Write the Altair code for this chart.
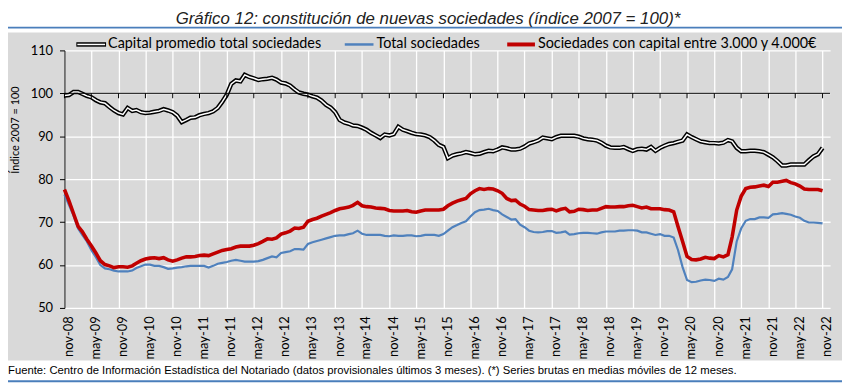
import altair as alt
import pandas as pd

# ---------------- data ----------------
months = pd.date_range("2008-11-01", periods=169, freq="MS")

capital_promedio = [
    99.5, 99.6, 100.3, 100.3, 99.9, 99.4, 99.1, 98.4, 97.9, 97.7, 96.8, 96.0,
    95.4, 95.1, 96.6, 95.9, 96.1, 95.6, 95.4, 95.5, 95.7, 95.9, 96.3, 96.0,
    95.6, 94.8, 93.3, 93.8, 94.3, 94.4, 94.9, 95.2, 95.4, 95.8, 96.6, 98.0,
    99.7, 102.2, 103.0, 102.8, 104.3, 103.8, 103.5, 103.1, 103.3, 103.4, 103.6, 103.2,
    102.5, 102.3, 101.8, 100.9, 100.2, 99.9, 99.7, 99.3, 99.0, 98.3, 97.3, 96.7,
    95.6, 93.8, 93.2, 92.9, 92.5, 92.4, 92.0, 91.5, 90.8, 90.2, 89.6, 90.4,
    90.2, 90.5, 92.2, 91.5, 91.2, 90.8, 90.5, 90.4, 90.2, 89.8, 89.0, 88.0,
    87.5, 84.9, 85.5, 85.8, 86.0, 86.3, 86.1, 85.8, 85.9, 86.3, 86.6, 86.5,
    86.9, 87.4, 87.2, 86.9, 86.9, 87.1, 87.6, 88.3, 88.6, 89.0, 89.7, 89.5,
    89.3, 89.8, 90.1, 90.1, 90.1, 90.1, 89.9, 89.5, 89.3, 89.2, 89.0, 88.5,
    87.8, 87.4, 87.3, 87.3, 87.5, 87.0, 86.6, 87.0, 87.1, 86.9, 87.5, 86.6,
    87.3, 87.8, 88.2, 88.4, 88.7, 89.0, 90.4, 89.8, 89.3, 88.8, 88.6, 88.4,
    88.4, 88.3, 88.5, 89.1, 88.8, 87.3, 86.5, 86.5, 86.6, 86.6, 86.5, 86.3,
    85.7, 85.1, 84.2, 83.2, 83.2, 83.4, 83.4, 83.4, 83.4, 84.4, 85.3, 85.8, 87.3,
]

total_sociedades = [
    76.4, 74.0, 71.5, 68.5, 67.0, 65.5, 63.5, 61.8, 60.0, 59.2, 59.0, 58.7,
    58.5, 58.5, 58.5, 58.7, 59.3, 59.7, 60.1, 60.1, 59.8, 59.8, 59.5, 59.1,
    59.2, 59.4, 59.5, 59.7, 59.8, 59.8, 59.8, 59.8, 59.4, 59.8, 60.3, 60.5,
    60.7, 61.0, 61.2, 61.0, 60.8, 60.8, 60.8, 60.9, 61.2, 61.6, 62.0, 61.8,
    62.8, 63.0, 63.2, 63.7, 63.7, 63.6, 64.9, 65.3, 65.6, 65.9, 66.2, 66.5,
    66.8, 66.9, 66.9, 67.2, 67.4, 68.0, 67.3, 67.0, 67.0, 67.0, 67.0, 66.8,
    66.7, 66.9, 66.8, 66.8, 66.9, 66.9, 66.7, 66.8, 67.0, 67.0, 67.0, 66.8,
    67.2, 68.0, 68.8, 69.3, 69.8, 70.2, 71.3, 72.3, 72.8, 72.9, 73.1, 72.8,
    72.6, 71.8, 71.2, 70.6, 70.7, 69.4, 68.8, 68.0, 67.7, 67.6, 67.7, 67.9,
    67.9, 67.5, 67.6, 67.8, 67.1, 67.2, 67.4, 67.5, 67.5, 67.4, 67.3, 67.6,
    67.8, 67.8, 67.8, 68.0, 68.0, 68.1, 68.1, 68.0, 67.6, 67.6, 67.3, 67.0,
    67.2, 66.8, 66.8, 66.4, 63.5, 59.5, 56.5, 56.0, 56.1, 56.4, 56.6, 56.5,
    56.3, 56.8, 56.6, 57.2, 59.0, 65.5, 68.5, 70.3, 70.7, 70.7, 71.1, 71.1,
    71.0, 71.8, 71.9, 72.1, 71.9, 71.7, 71.3, 71.0, 70.3, 69.9, 69.9, 69.8, 69.7,
]

capital_3000_4000 = [
    77.6, 75.0, 72.0, 69.0, 67.8, 66.0, 64.5, 62.8, 61.0, 60.1, 59.8, 59.4,
    59.6, 59.6, 59.5, 59.8, 60.4, 61.0, 61.4, 61.6, 61.7, 61.5, 61.7, 61.2,
    60.9, 61.2, 61.6, 61.9, 61.9, 62.0, 62.2, 62.3, 62.2, 62.6, 63.0, 63.4,
    63.6, 63.8, 64.2, 64.4, 64.4, 64.4, 64.6, 65.0, 65.5, 66.1, 66.0, 66.3,
    67.2, 67.5, 67.9, 68.6, 68.5, 68.8, 70.2, 70.6, 70.9, 71.4, 71.8, 72.2,
    72.7, 73.1, 73.3, 73.5, 73.9, 74.6, 73.8, 73.6, 73.5, 73.3, 73.2, 73.1,
    72.7, 72.6, 72.6, 72.6, 72.7, 72.4, 72.3, 72.6, 72.8, 72.8, 72.8, 72.8,
    73.0, 73.8, 74.4, 74.9, 75.2, 75.5, 76.6, 77.3, 77.8, 77.6, 77.8, 77.7,
    77.3, 76.7, 75.5, 75.0, 75.1, 74.2, 73.7, 72.9, 72.8, 72.7, 72.7, 72.9,
    73.0, 72.6, 73.0, 73.2, 72.4, 72.5, 73.0, 72.9, 72.7, 72.8, 72.8, 73.2,
    73.6, 73.5, 73.5, 73.6, 73.6, 73.8, 73.9, 73.6, 73.3, 73.5, 73.1, 73.1,
    73.1, 72.9, 72.8, 72.4, 69.0, 65.5, 62.0, 61.3, 61.2, 61.4, 61.8, 61.6,
    61.5, 62.2, 61.9, 62.4, 66.5, 72.8, 76.0, 77.8, 78.1, 78.2, 78.4, 78.6,
    78.3, 79.3, 79.3, 79.5, 79.7, 79.2, 78.9, 78.4, 77.7, 77.6, 77.6, 77.6, 77.3,
]

series_names = [
    "Capital promedio total sociedades",
    "Total sociedades",
    "Sociedades con capital entre 3.000 y 4.000€",
]
y_ticks = [50, 60, 70, 80, 90, 100, 110]
month_abbr = ["ene", "feb", "mar", "abr", "may", "jun",
              "jul", "ago", "sep", "oct", "nov", "dic"]

title_text = "Gráfico 12: constitución de nuevas sociedades (índice 2007 = 100)*"
y_title = "Índice 2007 = 100"
source_text = ("Fuente: Centro de Información Estadística del Notariado "
               "(datos provisionales últimos 3 meses). (*) Series brutas en "
               "medias móviles de 12 meses.")

df = pd.DataFrame({
    "fecha": months,
    "capital": capital_promedio,
    "total": total_sociedades,
    "tramo": capital_3000_4000,
})
tick_dates = months[::6]
ticks_df = pd.DataFrame({"fecha": tick_dates})
one = pd.DataFrame({"a": [0]})

# ---------------- layout ----------------
W, H = 773, 260
GRAY = "#D9D9D9"
BLUE_RULE = "#4A7EBB"
AX_FONT = "Lato"
NARROW = "Liberation Sans Narrow, Arial Narrow, Liberation Sans"

label_js = "[" + ",".join("'%s'" % m for m in month_abbr) + "]"
x_scale = alt.Scale(domain=[alt.DateTime(year=2008, month=11, date=1),
                            alt.DateTime(year=2022, month=12, date=22)])
x_axis = alt.Axis(
    values=[alt.DateTime(year=d.year, month=d.month, date=1) for d in tick_dates],
    labelExpr=label_js + "[month(datum.value)] + '-' + timeFormat(datum.value, '%y')",
    labelAngle=-90, labelAlign="right", labelBaseline="middle",
    labelOffset=4, labelPadding=8, labelFont=AX_FONT, labelFontSize=13,
    labelColor="black", domain=False, ticks=False, grid=True,
    gridColor="white", gridWidth=1.3, title=None, labelOverlap=False,
)
y_axis = alt.Axis(
    values=y_ticks, domain=True, domainColor="black", domainWidth=1,
    ticks=True, tickColor="black", tickSize=5, labelFont=AX_FONT,
    labelFontSize=13, labelColor="black", labelPadding=7, grid=True,
    gridColor="white", gridWidth=1.3, title=y_title, titleFont=AX_FONT,
    titleFontSize=11, titleFontWeight="normal", titleColor="black",
    titleX=-49, titleY=80, titleAlign="center", titleBaseline="middle",
)
y_scale = alt.Scale(domain=[50, 110], nice=False, zero=False)

X = alt.X("fecha:T", scale=x_scale, axis=x_axis)


def Y(field):
    return alt.Y(field + ":Q", scale=y_scale, axis=y_axis)


base = alt.Chart(df)

# white bands above and below the gray panel
top_band = alt.Chart(one).mark_rect(color="white").encode(
    x=alt.value(-60), x2=alt.value(800), y=alt.value(-60), y2=alt.value(-18))
bot_band = alt.Chart(one).mark_rect(color="white").encode(
    x=alt.value(-60), x2=alt.value(800), y=alt.value(313), y2=alt.value(340))
top_rule = alt.Chart(one).mark_rule(color=BLUE_RULE, strokeWidth=2).encode(
    x=alt.value(-60), x2=alt.value(800), y=alt.value(-23))
bot_rule = alt.Chart(one).mark_rule(color=BLUE_RULE, strokeWidth=2).encode(
    x=alt.value(-60), x2=alt.value(800), y=alt.value(334))
title = alt.Chart(one).mark_text(
    text=title_text, font=NARROW, fontSize=17, fontStyle="italic",
    align="center", baseline="middle", color="#222").encode(
    x=alt.value(367), y=alt.value(-31.5))
source = alt.Chart(one).mark_text(
    text=source_text, font=NARROW, fontSize=11.4, align="left",
    baseline="middle", color="black").encode(
    x=alt.value(-57), y=alt.value(324))

# legend
LY = -6
LFS = 14.5
leg = [
    alt.Chart(one).mark_rule(color="black", strokeWidth=4.5).encode(
        x=alt.value(12), x2=alt.value(42), y=alt.value(LY)),
    alt.Chart(one).mark_rule(color="white", strokeWidth=1.5).encode(
        x=alt.value(13), x2=alt.value(41), y=alt.value(LY)),
    alt.Chart(one).mark_text(text=series_names[0], font=AX_FONT, fontSize=LFS,
                             align="left", baseline="middle", color="black").encode(
        x=alt.value(44), y=alt.value(LY)),
    alt.Chart(one).mark_rule(color="#4F81BD", strokeWidth=2.5).encode(
        x=alt.value(283), x2=alt.value(312), y=alt.value(LY)),
    alt.Chart(one).mark_text(text=series_names[1], font=AX_FONT, fontSize=LFS,
                             align="left", baseline="middle", color="black").encode(
        x=alt.value(315), y=alt.value(LY)),
    alt.Chart(one).mark_rule(color="#C00000", strokeWidth=4).encode(
        x=alt.value(447), x2=alt.value(475), y=alt.value(LY)),
    alt.Chart(one).mark_text(text=series_names[2], font=AX_FONT, fontSize=LFS,
                             align="left", baseline="middle", color="black").encode(
        x=alt.value(478), y=alt.value(LY)),
]

# 100 axis line with its tick marks
line100 = alt.Chart(one).mark_rule(color="black", strokeWidth=1).encode(
    x=alt.value(0), x2=alt.value(W), y=alt.datum(100))
ticks100 = alt.Chart(ticks_df).mark_rule(color="black", strokeWidth=1).encode(
    x=X, y=alt.datum(100), y2=alt.datum(98.85))

cap_outer = base.mark_line(color="black", strokeWidth=4.5).encode(x=X, y=Y("capital"))
cap_inner = base.mark_line(color="white", strokeWidth=1.5).encode(x=X, y=Y("capital"))
tot_line = base.mark_line(color="#4F81BD", strokeWidth=2.2).encode(x=X, y=Y("total"))
tramo_line = base.mark_line(color="#C00000", strokeWidth=3.6).encode(x=X, y=Y("tramo"))

chart = alt.layer(
    cap_outer, cap_inner, tot_line, tramo_line, line100, ticks100,
    top_band, bot_band, top_rule, bot_rule, title, source, *leg,
).properties(
    width=W, height=H,
    autosize=alt.AutoSizeParams(type="none"),
    padding={"left": 57, "top": 41, "right": 12, "bottom": 76},
    background=GRAY,
).configure_view(stroke=None)

chart.save("out.html", embed_options={"renderer": "svg", "actions": False})
